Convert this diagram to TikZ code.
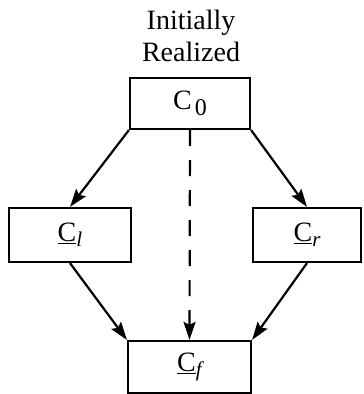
\documentclass[tikz,border=0pt]{standalone}
\usepackage{fontspec}
\setmainfont{Liberation Serif}
\usetikzlibrary{arrows.meta}
\begin{document}
\begin{tikzpicture}[x=1pt,y=-1pt,
  box/.style={draw, line width=2.2pt, inner sep=0pt, font=\fontsize{28}{32}\selectfont},
  lbl/.style={font=\fontsize{28}{32}\selectfont, inner sep=0pt, anchor=base},
  arr/.style={line width=2.2pt, -{Stealth[length=18pt,width=12pt,inset=3pt]}},
  dasharr/.style={arr, dash pattern=on 16pt off 14pt},
]
\useasboundingbox (0,0) rectangle (364,394);
\node[lbl] (t1) at (191,29) {Initially};
\node[lbl] (t2) at (191,61) {Realized};
\node[box, minimum width=120pt, minimum height=51pt] (c0) at (190,103.5)
  {C\hspace{3pt}\raisebox{-6pt}{\fontsize{24}{24}\selectfont 0}};
\node[box, minimum width=122pt, minimum height=54pt] (cl) at (70,235)
  {\underline{C}\raisebox{-5pt}{\fontsize{21}{21}\selectfont\itshape l}};
\node[box, minimum width=108pt, minimum height=54pt] (cr) at (307,235)
  {\underline{C}\raisebox{-5pt}{\fontsize{21}{21}\selectfont\itshape r}};
\node[box, minimum width=123pt, minimum height=52pt] (cf) at (189.5,367)
  {\underline{C}\raisebox{-5pt}{\fontsize{21}{21}\selectfont\itshape f}};
\draw[arr] (c0.south west) -- (cl.north);
\draw[arr] (c0.south east) -- (cr.north);
\draw[dasharr] (c0.south) -- (cf.north);
\draw[arr] (cl.south) -- (cf.north west);
\draw[arr] (cr.south) -- (cf.north east);
\end{tikzpicture}
\end{document}
